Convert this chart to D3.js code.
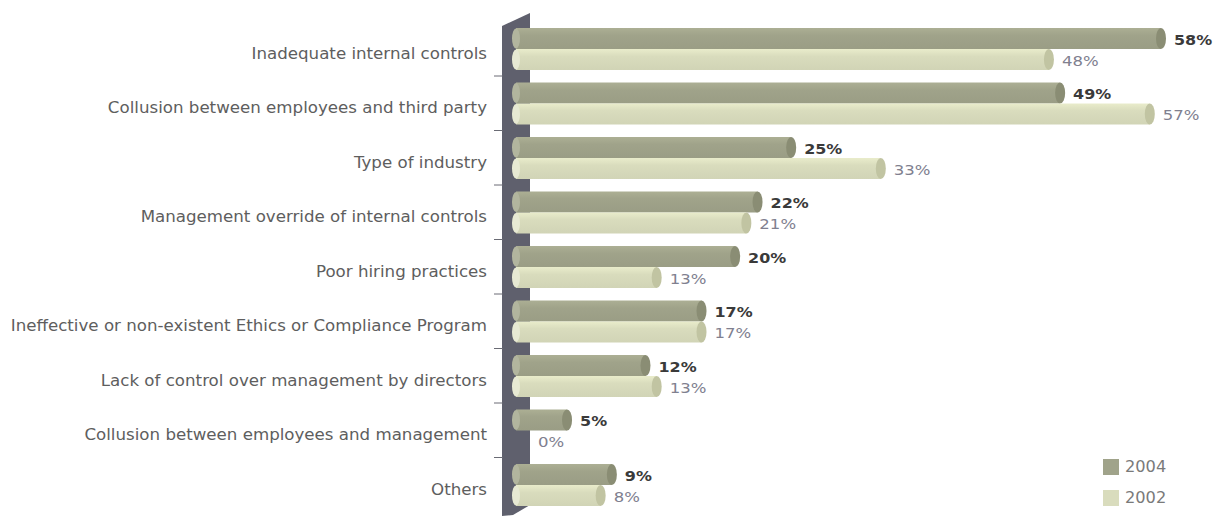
<!DOCTYPE html>
<html>
<head>
<meta charset="utf-8">
<script src="https://cdn.jsdelivr.net/npm/d3@7"></script>
<style>
  html, body { margin: 0; padding: 0; background: #ffffff; }
  svg { display: block; }
</style>
</head>
<body>
<svg id="chart" width="1223" height="516"></svg>
<script>
// Fraud risk factors, share of respondents, 2004 vs 2002
const categories = [
  "Inadequate internal controls",
  "Collusion between employees and third party",
  "Type of industry",
  "Management override of internal controls",
  "Poor hiring practices",
  "Ineffective or non-existent Ethics or Compliance Program",
  "Lack of control over management by directors",
  "Collusion between employees and management",
  "Others"
];
const values2004 = [58, 49, 25, 22, 20, 17, 12, 5, 9];
const values2002 = [48, 57, 33, 21, 13, 17, 13, 0, 8];
const seriesNames = ["2004", "2002"];

const svg = d3.select("#chart");

const colors = {
  dark: "#a0a38a", darkCap: "#8a8d74", darkEnd: "#b2b59e",
  light: "#d9dcbd", lightCap: "#c1c4a2", lightEnd: "#e7e9d3",
  wall: "#5f606d"
};

const x = d3.scaleLinear().domain([0, 58]).range([516, 1166]);
const band = d3.scaleBand().domain(categories).range([28, 28 + 54.5 * 9]).paddingInner(0).paddingOuter(0);
const barH = 21;
const capRx = 5;

// widen glyphs slightly (extended typeface look)
function stretch(sel, k) {
  sel.each(function () {
    const w = this.getComputedTextLength();
    d3.select(this).attr("textLength", w * k).attr("lengthAdjust", "spacingAndGlyphs");
  });
}

// wall (the axis drawn as a slanted slab)
const wallPts = [[502, 26], [530, 13], [530, 505], [513, 515], [502, 516]];
svg.append("polygon")
  .attr("points", wallPts.map(p => p.join(",")).join(" "))
  .attr("fill", colors.wall);

// small ticks at the left of the wall between groups
svg.append("g").selectAll("line")
  .data(categories.slice(1))
  .join("line")
  .attr("x1", 494).attr("x2", 503)
  .attr("y1", d => band(d) - 6.5).attr("y2", d => band(d) - 6.5)
  .attr("stroke", "#6a6b74").attr("stroke-width", 1);

// bar gradients for a cylindrical look
const defs = svg.append("defs");
function grad(id, base) {
  const g = defs.append("linearGradient").attr("id", id).attr("x1", 0).attr("x2", 0).attr("y1", 0).attr("y2", 1);
  const c = d3.color(base);
  g.append("stop").attr("offset", "0%").attr("stop-color", c.brighter(0.2));
  g.append("stop").attr("offset", "35%").attr("stop-color", base);
  g.append("stop").attr("offset", "100%").attr("stop-color", c.darker(0.1));
}
grad("gDark", colors.dark);
grad("gLight", colors.light);

function drawSeries(values, offset, fill, cap, endFill) {
  const g = svg.append("g");
  const rows = categories.map((c, i) => ({ c, v: values[i] })).filter(d => d.v > 0);
  const yTop = d => band(d.c) + offset;
  g.selectAll("rect")
    .data(rows).join("rect")
    .attr("x", x(0))
    .attr("y", yTop)
    .attr("width", d => Math.max(0, x(d.v) - capRx - x(0)))
    .attr("height", barH)
    .attr("fill", fill);
  // rounded left end
  g.selectAll("ellipse.left")
    .data(rows).join("ellipse").attr("class", "left")
    .attr("cx", x(0)).attr("cy", d => yTop(d) + barH / 2)
    .attr("rx", 4).attr("ry", barH / 2 - 0.5)
    .attr("fill", endFill);
  // darker cap on the right end
  g.selectAll("ellipse.cap")
    .data(rows).join("ellipse").attr("class", "cap")
    .attr("cx", d => x(d.v) - capRx).attr("cy", d => yTop(d) + barH / 2)
    .attr("rx", capRx).attr("ry", barH / 2)
    .attr("fill", cap);
}
drawSeries(values2004, 0, "url(#gDark)", colors.darkCap, colors.darkEnd);
drawSeries(values2002, barH, "url(#gLight)", colors.lightCap, colors.lightEnd);

const font = "'DejaVu Sans', sans-serif";

// value labels
svg.append("g").selectAll("text")
  .data(categories.map((c, i) => ({ c, v: values2004[i] })))
  .join("text")
  .attr("x", d => Math.max(x(d.v), 530) + 8)
  .attr("y", d => band(d.c) + barH / 2 + 2)
  .attr("dominant-baseline", "middle")
  .attr("font-family", font).attr("font-size", 14.5).attr("font-weight", "bold")
  .attr("fill", "#3a3a3a")
  .text(d => d.v + "%")
  .call(stretch, 1.1);

svg.append("g").selectAll("text")
  .data(categories.map((c, i) => ({ c, v: values2002[i] })))
  .join("text")
  .attr("x", d => Math.max(x(d.v), 530) + 8)
  .attr("y", d => band(d.c) + barH * 1.5 + 2)
  .attr("dominant-baseline", "middle")
  .attr("font-family", font).attr("font-size", 14.5)
  .attr("fill", "#80808f")
  .text(d => d.v + "%")
  .call(stretch, 1.14);

// category labels
svg.append("g").selectAll("text")
  .data(categories).join("text")
  .attr("x", 487)
  .attr("y", d => band(d) + 26)
  .attr("text-anchor", "end")
  .attr("dominant-baseline", "middle")
  .attr("font-family", font).attr("font-size", 15)
  .attr("fill", "#5e5e5e")
  .text(d => d)
  .call(stretch, 1.11);

// legend
const legend = svg.append("g").attr("transform", "translate(1103,459)");
const legendFill = [colors.dark, colors.light];
seriesNames.forEach((s, i) => {
  legend.append("rect").attr("x", 0).attr("y", i * 31).attr("width", 16).attr("height", 16).attr("fill", legendFill[i]);
  legend.append("text").attr("x", 22).attr("y", i * 31 + 8.5)
    .attr("dominant-baseline", "middle")
    .attr("font-family", font).attr("font-size", 15)
    .attr("fill", "#7a7a7a").text(s)
    .call(stretch, 1.08);
});
</script>
</body>
</html>
